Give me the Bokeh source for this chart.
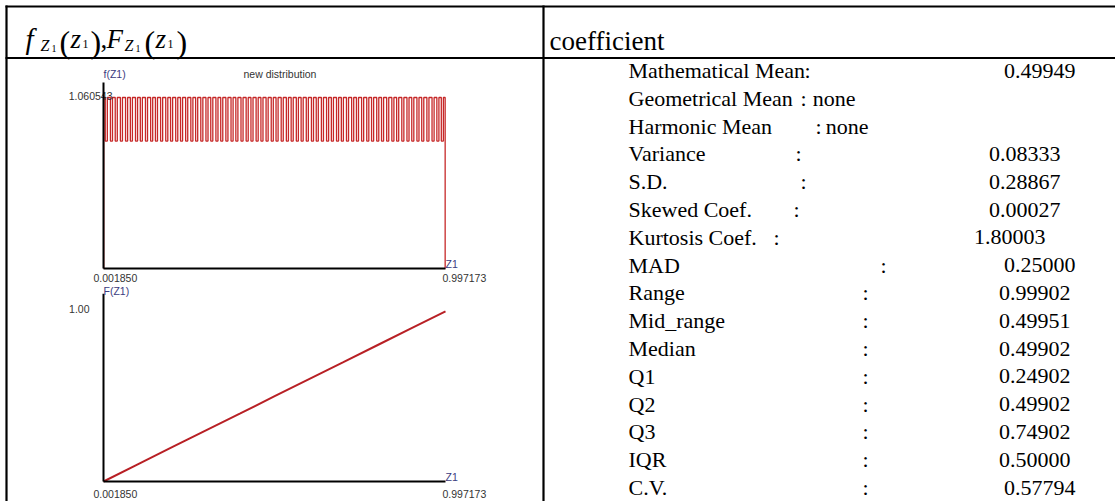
from bokeh.plotting import figure
from bokeh.models import Range1d
from bokeh.core.properties import value
from bokeh.embed import file_html
from bokeh.resources import INLINE

# ---------------- data ----------------
z_min = 0.001850
z_max = 0.997173
f_max = 1.060543          # density plateau
f_low = 0.79              # bottom of the comb dips
dip_half = 0.003          # half width of a dip (data units)
dip_centers = [0.010, 0.025, 0.039, 0.054, 0.069, 0.083, 0.098, 0.112, 0.127, 0.142,
               0.156, 0.171, 0.186, 0.200, 0.215, 0.229, 0.244, 0.259, 0.273, 0.288,
               0.303, 0.317, 0.332, 0.346, 0.361, 0.376, 0.390, 0.405, 0.420, 0.434,
               0.449, 0.463, 0.478, 0.493, 0.507, 0.522, 0.537, 0.551, 0.566, 0.580,
               0.595, 0.610, 0.624, 0.639, 0.654, 0.668, 0.683, 0.697, 0.712, 0.727,
               0.741, 0.756, 0.771, 0.785, 0.800, 0.814, 0.829, 0.844, 0.858, 0.873,
               0.888, 0.902, 0.917, 0.931, 0.946, 0.961, 0.975, 0.988]
cdf_z = [0.001850, 0.100, 0.200, 0.300, 0.400, 0.500, 0.600, 0.700, 0.800, 0.900, 0.997173]
cdf_F = [0.0, 0.098, 0.197, 0.296, 0.394, 0.493, 0.592, 0.690, 0.789, 0.888, 0.983]
F_tick = 1.00

stat_names = ["Mathematical Mean", "Geometrical Mean", "Harmonic Mean", "Variance", "S.D.",
              "Skewed Coef.", "Kurtosis Coef.", "MAD", "Range", "Mid_range", "Median",
              "Q1", "Q2", "Q3", "IQR", "C.V."]
stat_values = ["0.49949", "none", "none", "0.08333", "0.28867", "0.00027", "1.80003",
               "0.25000", "0.99902", "0.49951", "0.49902", "0.24902", "0.49902",
               "0.74902", "0.50000", "0.57794"]

# ---------------- layout (picture pixels) ----------------
W, H = 1115, 501

colon_x = [804, 800, 815, 795, 800, 793, 773, 880, 862, 862, 862, 862, 862, 862, 862, 862]
value_x = [1075, 855, 868, 1060, 1060, 1060, 1045, 1075, 1070, 1070, 1070, 1070, 1070, 1070, 1070, 1075]
name_x = 628
row_y0, row_dy = 70, 27.8
stat_font = value("22px")


def anchored_range(v0, s0, v1, s1, lo, hi):
    k = (v1 - v0) / (s1 - s0)
    return Range1d(v0 + (lo - s0) * k, v0 + (hi - s0) * k)


p = figure(width=W, height=H, output_backend="svg", toolbar_location=None,
           x_range=Range1d(0, W), y_range=Range1d(H, 0),
           x_axis_location=None, y_axis_location=None, min_border=0,
           outline_line_color=None, background_fill_color="white",
           border_fill_color="white")
p.grid.visible = False

p.extra_x_ranges = {"zx": anchored_range(z_min, 103, z_max, 445, 0, W)}
p.extra_y_ranges = {"fy": anchored_range(0.0, 268, f_max, 97, H, 0),
                    "Fy": anchored_range(0.0, 481, F_tick, 308, H, 0)}

# ---------------- table frame ----------------
p.segment(x0=[5, 6, 5, 543], y0=[6, 5, 57.5, 5],
          x1=[W, 6, W, 543], y1=[6, H, 57.5, H],
          line_color="black", line_width=2.2)

# header: f_Z1(z1), F_Z1(z1)
serif = value("Liberation Serif")
hdr = [("f", 25, 38, 29, "italic"), ("Z", 40, 45, 16, "italic"), ("1", 51, 48, 10, "normal"),
       ("(", 59, 41, 32, "normal"), ("z", 70, 38, 27, "italic"), ("1", 82, 43, 12, "normal"),
       (")", 90, 41, 32, "normal"), (",", 100, 38, 27, "normal"), ("F", 106, 38, 27, "italic"),
       ("Z", 124, 45, 16, "italic"), ("1", 135, 48, 10, "normal"), ("(", 144, 41, 32, "normal"),
       ("z", 155, 38, 27, "italic"), ("1", 167, 43, 12, "normal"), (")", 176, 41, 32, "normal")]
for t, x, y, s, st in hdr:
    p.text(x=[x], y=[y], text=[t], text_font=serif, text_font_size=value(f"{s}px"),
           text_font_style=st, text_baseline="alphabetic", text_align="left", text_color="black")

p.text(x=[549], y=[40], text=["coefficient"], text_font=serif, text_font_size=value("27px"),
       text_baseline="alphabetic", text_align="left", text_color="black")

# ---------------- statistics column ----------------
rows_y = [row_y0 + i * row_dy for i in range(len(stat_names))]
p.text(x=[name_x] * len(stat_names), y=rows_y, text=stat_names, text_font=serif,
       text_font_size=stat_font, text_baseline="middle", text_align="left", text_color="black")
p.text(x=colon_x, y=rows_y, text=[":"] * len(stat_names), text_font=serif,
       text_font_size=stat_font, text_baseline="middle", text_align="left", text_color="black")
p.text(x=value_x, y=rows_y, text=stat_values, text_font=serif,
       text_font_size=stat_font, text_baseline="middle", text_align="right", text_color="black")

# ---------------- density plot ----------------
sans = value("Liberation Sans")
lab_blue = "#3b3b80"
lab_grey = "#333333"

xs = [z_min + 0.0006, z_min + 0.0006]
ys = [0.0, f_max]
for d in dip_centers:
    xs += [d - dip_half, d - dip_half, d + dip_half, d + dip_half]
    ys += [f_max, f_low, f_low, f_max]
xs += [z_max - 0.001, z_max - 0.001]
ys += [f_max, 0.0]
p.line(xs, ys, x_range_name="zx", y_range_name="fy", line_color="#c62828", line_width=1.3)

p.text(x=[112], y=[95], text=["1.060543"], text_font=sans, text_font_size=value("10.5px"),
       text_align="right", text_baseline="middle", text_color=lab_grey)
p.line([z_min, z_min], [0.0, f_max * 1.088], x_range_name="zx", y_range_name="fy",
       line_color="black", line_width=2)
p.line([z_min, z_max], [0.0, 0.0], x_range_name="zx", y_range_name="fy",
       line_color="black", line_width=2)
p.text(x=[103, 243, 445], y=[73, 73, 263], text=["f(Z1)", "new distribution", "Z1"],
       text_font=sans, text_font_size=value("10.5px"), text_align="left",
       text_baseline="middle", text_color=[lab_blue, lab_grey, lab_blue])
p.text(x=[93, 442], y=[277, 277], text=["0.001850", "0.997173"], text_font=sans,
       text_font_size=value("10.5px"), text_align="left", text_baseline="middle",
       text_color=lab_grey)

# ---------------- CDF plot ----------------
p.line(cdf_z, cdf_F, x_range_name="zx", y_range_name="Fy", line_color="#b82025", line_width=2)
p.line([z_min, z_min], [0.0, F_tick * 1.085], x_range_name="zx", y_range_name="Fy",
       line_color="black", line_width=2)
p.line([z_min, z_max], [0.0, 0.0], x_range_name="zx", y_range_name="Fy",
       line_color="black", line_width=2)
p.text(x=[89], y=[308], text=["1.00"], text_font=sans, text_font_size=value("10.5px"),
       text_align="right", text_baseline="middle", text_color=lab_grey)
p.text(x=[103, 445], y=[290, 476], text=["F(Z1)", "Z1"], text_font=sans,
       text_font_size=value("10.5px"), text_align="left", text_baseline="middle",
       text_color=lab_blue)
p.text(x=[93, 442], y=[493, 493], text=["0.001850", "0.997173"], text_font=sans,
       text_font_size=value("10.5px"), text_align="left", text_baseline="middle",
       text_color=lab_grey)

open("out.html", "w").write(file_html(p, INLINE))
